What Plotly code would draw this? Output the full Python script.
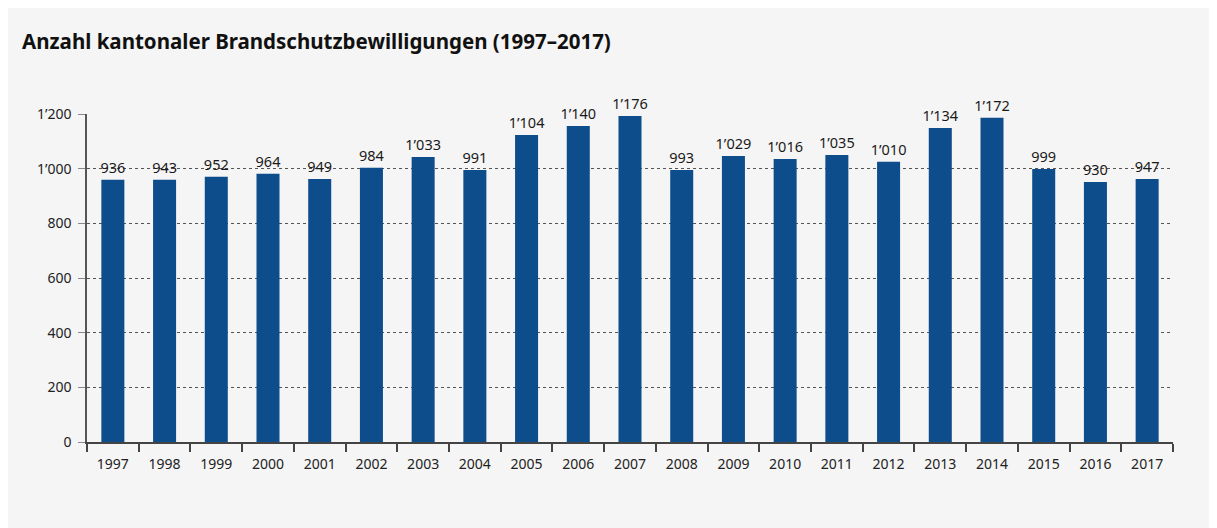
import plotly.graph_objects as go

years = [str(y) for y in range(1997, 2018)]
# bar heights
bar_values = [959, 959, 970, 981, 962, 1003, 1043, 995, 1123, 1156, 1193,
              995, 1046, 1035, 1050, 1025, 1149, 1186, 999, 951, 962]
# value labels printed above the bars
bar_labels = ["936", "943", "952", "964", "949", "984", "1’033", "991", "1’104", "1’140", "1’176",
              "993", "1’029", "1’016", "1’035", "1’010", "1’134", "1’172", "999", "930", "947"]
y_ticks = [0, 200, 400, 600, 800, 1000, 1200]
y_tick_text = ["0", "200", "400", "600", "800", "1’000", "1’200"]

title = "Anzahl kantonaler Brandschutzbewilligungen (1997–2017)"

FONT = "Noto Sans"
bg = "#f5f5f5"

fig = go.Figure(go.Bar(
    x=years, y=bar_values,
    text=bar_labels, textposition="outside",
    constraintext="none",
    textfont=dict(family=FONT, size=14.5, color="#1a1a1a"),
    marker=dict(color="#0e4d8b", line=dict(width=0)),
    cliponaxis=False,
    hoverinfo="skip",
))

fig.update_layout(
    width=1209, height=520,
    paper_bgcolor=bg, plot_bgcolor=bg,
    margin=dict(l=79, r=44, t=106, b=86),
    bargap=0.555,
    showlegend=False,
    title=dict(text="<b>" + title + "</b>", x=14 / 1209, xref="container", xanchor="left",
               y=1 - 34 / 520, yanchor="middle",
               font=dict(family=FONT, size=20.5, color="#111111")),
    font=dict(family=FONT, size=14, color="#222222"),
)

fig.update_xaxes(
    type="category",
    showline=True, linecolor="#444444", linewidth=2,
    ticks="outside", tickson="boundaries", ticklen=8, tickcolor="#444444", tickwidth=1.5,
    showgrid=False,
    tickfont=dict(family=FONT, size=14, color="#222222"),
    ticklabelstandoff=8,
)
fig.update_yaxes(
    range=[0, 1200],
    tickvals=y_ticks, ticktext=y_tick_text,
    showline=True, linecolor="#555555", linewidth=1.5,
    showgrid=True, gridcolor="#555555", gridwidth=1, griddash="dot",
    ticks="outside", ticklen=7, tickcolor="#888888", tickwidth=1,
    zeroline=False,
    tickfont=dict(family=FONT, size=14, color="#222222"),
    ticklabelstandoff=4,
)

fig.write_html("out.html")
